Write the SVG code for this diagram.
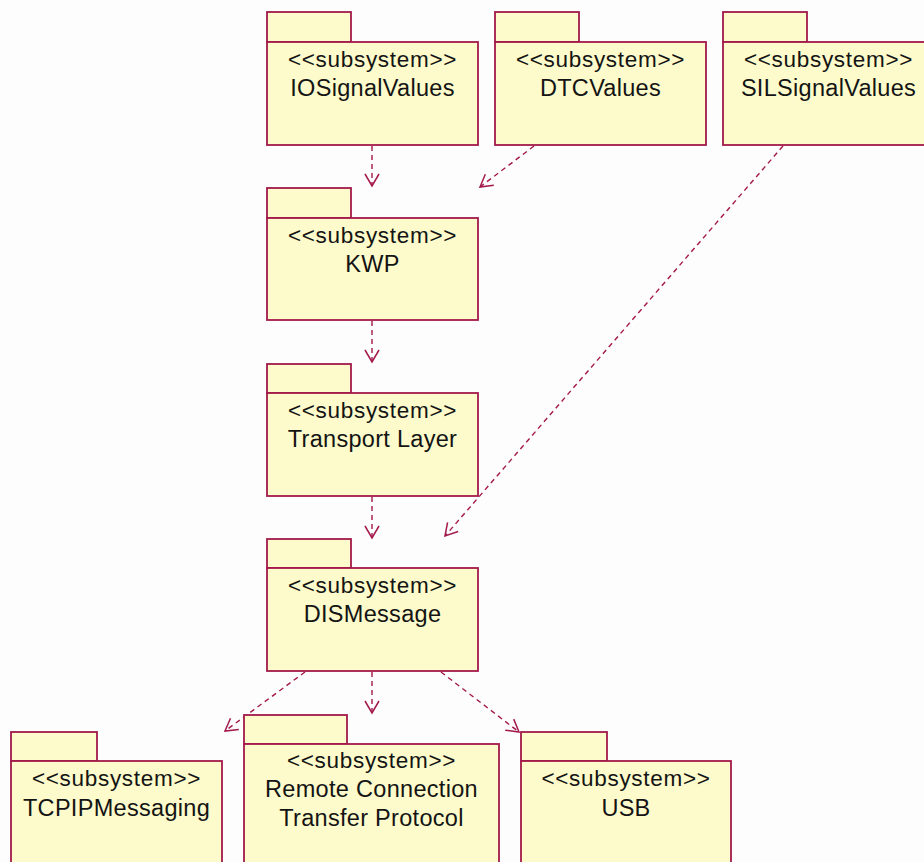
<svg xmlns="http://www.w3.org/2000/svg" width="924" height="862" viewBox="0 0 924 862">
  <defs>
    <style>
      .pkg rect { fill: #FDFBCB; stroke: #A3194B; stroke-width: 1.8; }
      .pkg text { font-family: "Liberation Sans", Arial, sans-serif; font-size: 23.5px; fill: #141414; text-anchor: middle; letter-spacing: 0.3px; }
      .pkg text.st { font-size: 22.5px; letter-spacing: 0.7px; }
      .dep { fill: none; stroke: #A3194B; stroke-width: 1.4; stroke-dasharray: 5 4; }
    </style>
    <marker id="open" viewBox="-14 -9 16 18" refX="0" refY="0" markerWidth="16" markerHeight="18" markerUnits="userSpaceOnUse" orient="auto">
      <path d="M-12,-7 L0,0 L-12,7" fill="none" stroke="#A3194B" stroke-width="1.5"/>
    </marker>
  </defs>

  <rect width="924" height="862" fill="#FDFDFD"/>

  <!-- dependency connectors -->
  <g id="connectors">
    <line class="dep" x1="372" y1="146" x2="372" y2="186" marker-end="url(#open)"/>
    <line class="dep" x1="534" y1="146" x2="480" y2="187" marker-end="url(#open)"/>
    <line class="dep" x1="783" y1="146" x2="445" y2="536" marker-end="url(#open)"/>
    <line class="dep" x1="372" y1="321" x2="372" y2="362" marker-end="url(#open)"/>
    <line class="dep" x1="372" y1="497" x2="372" y2="538" marker-end="url(#open)"/>
    <line class="dep" x1="305" y1="672" x2="225" y2="731" marker-end="url(#open)"/>
    <line class="dep" x1="372" y1="672" x2="372" y2="713" marker-end="url(#open)"/>
    <line class="dep" x1="441" y1="672" x2="519" y2="732" marker-end="url(#open)"/>
  </g>

  <g id="IOSignalValues" class="pkg">
    <rect x="267" y="12" width="84" height="30"/>
    <rect x="267" y="42" width="211" height="103"/>
    <text class="st" x="372.5" y="67">&lt;&lt;subsystem&gt;&gt;</text>
    <text x="372.5" y="96">IOSignalValues</text>
  </g>

  <g id="DTCValues" class="pkg">
    <rect x="495" y="12" width="84" height="30"/>
    <rect x="495" y="42" width="211" height="103"/>
    <text class="st" x="600.5" y="67">&lt;&lt;subsystem&gt;&gt;</text>
    <text x="600.5" y="96">DTCValues</text>
  </g>

  <g id="SILSignalValues" class="pkg">
    <rect x="723" y="12" width="84" height="30"/>
    <rect x="723" y="42" width="211" height="103"/>
    <text class="st" x="828.5" y="67">&lt;&lt;subsystem&gt;&gt;</text>
    <text x="828.5" y="96">SILSignalValues</text>
  </g>

  <g id="KWP" class="pkg">
    <rect x="267" y="188" width="84" height="30"/>
    <rect x="267" y="218" width="211" height="102"/>
    <text class="st" x="372.5" y="243">&lt;&lt;subsystem&gt;&gt;</text>
    <text x="372.5" y="272">KWP</text>
  </g>

  <g id="TransportLayer" class="pkg">
    <rect x="267" y="364" width="84" height="29"/>
    <rect x="267" y="393" width="211" height="103"/>
    <text class="st" x="372.5" y="418">&lt;&lt;subsystem&gt;&gt;</text>
    <text x="372.5" y="447">Transport Layer</text>
  </g>

  <g id="DISMessage" class="pkg">
    <rect x="267" y="539" width="84" height="29"/>
    <rect x="267" y="568" width="211" height="103"/>
    <text class="st" x="372.5" y="593">&lt;&lt;subsystem&gt;&gt;</text>
    <text x="372.5" y="622">DISMessage</text>
  </g>

  <g id="TCPIPMessaging" class="pkg">
    <rect x="11" y="732" width="86" height="29"/>
    <rect x="11" y="761" width="211" height="110"/>
    <text class="st" x="116.5" y="786">&lt;&lt;subsystem&gt;&gt;</text>
    <text x="116.5" y="816">TCPIPMessaging</text>
  </g>

  <g id="RemoteConnectionTransferProtocol" class="pkg">
    <rect x="244" y="715" width="103" height="29"/>
    <rect x="244" y="744" width="255" height="127"/>
    <text class="st" x="371.5" y="768">&lt;&lt;subsystem&gt;&gt;</text>
    <text x="371.5" y="797">Remote Connection</text>
    <text x="371.5" y="826">Transfer Protocol</text>
  </g>

  <g id="USB" class="pkg">
    <rect x="521" y="732" width="86" height="29"/>
    <rect x="521" y="761" width="210" height="110"/>
    <text class="st" x="626" y="786">&lt;&lt;subsystem&gt;&gt;</text>
    <text x="626" y="816">USB</text>
  </g>
</svg>
